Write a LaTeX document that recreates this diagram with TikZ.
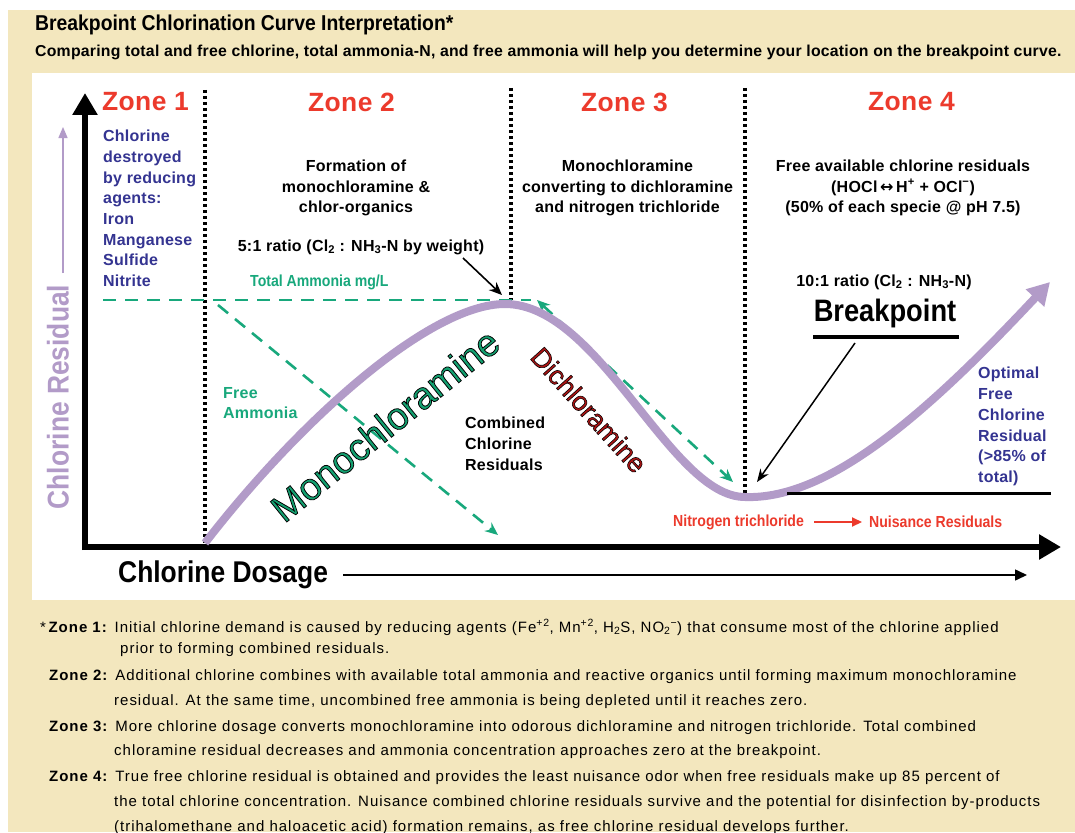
\documentclass[tikz,border=0pt]{standalone}
\usepackage{fontspec}
\setmainfont{Liberation Sans}[LetterSpace=1.5]
\newfontfamily\condfont{Liberation Sans}[FakeStretch=0.88]
\newfontfamily\headfont{Liberation Sans}[FakeStretch=0.9]
\newfontfamily\notefont{Liberation Sans}[LetterSpace=6.6]
\newfontfamily\outlinefont{Liberation Sans}[FakeBold=2]
\newfontfamily\arrowfont{DejaVu Sans}
\newcommand{\blackrim}{\special{pdf:literal direct 0 0 0 RG}}
\usetikzlibrary{arrows.meta}

\definecolor{paper}{RGB}{243,231,190}
\definecolor{lilac}{RGB}{178,155,200}
\definecolor{ammonia}{RGB}{24,168,124}
\definecolor{zonered}{RGB}{236,58,44}
\definecolor{indigo}{RGB}{52,52,145}
\definecolor{monogreen}{RGB}{20,160,112}
\definecolor{dired}{RGB}{172,20,20}

\begin{document}
\begin{tikzpicture}[x=1pt, y=-1pt, >=Stealth,
		zone/.style={text=zonered, font=\fontsize{26.4}{30}\selectfont\bfseries, inner sep=0},
		desc/.style={font=\fontsize{16}{20.8}\selectfont\bfseries, align=center, inner sep=0},
		agent/.style={text=indigo, font=\fontsize{16}{20.7}\selectfont\bfseries, align=left, inner sep=0},
		narrow/.style={font=\condfont\fontsize{16}{20}\selectfont\bfseries, inner sep=0},
		divider/.style={line width=3.2pt, dash pattern=on 3pt off 3pt},
		ammo/.style={ammonia, line width=2.6pt, dash pattern=on 13pt off 9pt},
		axis/.style={line width=6pt, -{Triangle[length=22pt,width=24pt]}},
		curve/.style={lilac, line width=8pt},
		pointer/.style={line width=1.6pt, -{Stealth[length=13pt,width=11pt]}},
		note/.style={anchor=base west, inner sep=0, font=\notefont\fontsize{15}{20}\selectfont}]
		
		% Background
		\useasboundingbox (0,0) rectangle (1075,832);
		\fill[white] (0,0) rectangle (1075,832);
		\fill[paper] (8,10) rectangle (1075,832);
		\fill[white] (32,73) rectangle (1075,600);
		
		% Heading
		\node[anchor=west, inner sep=0, font=\headfont\fontsize{21.5}{24}\selectfont\bfseries] (title) at (35,25) {Breakpoint Chlorination Curve Interpretation*};
		\node[anchor=west, inner sep=0, font=\fontsize{15.8}{18}\selectfont\bfseries] (subtitle) at (35,52) {Comparing total and free chlorine, total ammonia-N, and free ammonia will help you determine your location on the breakpoint curve.};
		
		% Key points
		\coordinate (origin) at (85,547);
		\coordinate (ytip) at (85,93);
		\coordinate (xtip) at (1061,547);
		\coordinate (start) at (205,543);
		\coordinate (peak) at (505,304);
		\coordinate (bp) at (745,497);
		\coordinate (fin) at (1050,282);
		
		% Zone dividers
		\draw[divider] (205,90) -- (start);
		\draw[divider] (511,88) -- (511,300);
		\draw[divider] (745,88) -- (745,493);
		
		% Zone titles
		\node[zone] (z1) at (145.5,102) {Zone 1};
		\node[zone] (z2) at (351.5,102) {Zone 2};
		\node[zone] (z3) at (624.5,102) {Zone 3};
		\node[zone] (z4) at (911.5,102) {Zone 4};
		
		% Zone texts
		\node[agent, anchor=north west] (agents) at (103,130) {Chlorine\\destroyed\\by reducing\\agents:\\Iron\\Manganese\\Sulfide\\Nitrite};
		\node[desc] (form) at (356,188) {Formation of\\monochloramine \&\\chlor-organics};
		\node[desc] (conv) at (627.5,188) {Monochloramine\\converting to dichloramine\\and nitrogen trichloride};
		\node[desc] (free) at (903,188) {Free available chlorine residuals\\(HOCl\,{\arrowfont\bfseries ↔}\,H\textsuperscript{+} + OCl\textsuperscript{−})\\(50\% of each specie @ pH 7.5)};
		\node[desc] (r5) at (361,247) {5:1 ratio (Cl\textsubscript{2} : NH\textsubscript{3}-N by weight)};
		\node[desc] (r10) at (884,282) {10:1 ratio (Cl\textsubscript{2} : NH\textsubscript{3}-N)};
		\node[narrow, text=ammonia, anchor=west] (total) at (250,282) {Total Ammonia mg/L};
		\node[desc, text=ammonia, align=left, anchor=west] (freeam) at (223,403) {Free\\Ammonia};
		\node[desc, align=left, anchor=west] (comb) at (465,444) {Combined\\Chlorine\\Residuals};
		\node[desc, text=indigo, align=left, anchor=north west] (optimal) at (978,367) {Optimal\\Free\\Chlorine\\Residual\\(>85\% of\\total)};
		\node[inner sep=0, font=\condfont\fontsize{31}{34}\selectfont\bfseries] (bpt) at (885,313) {Breakpoint};
		\draw[line width=4pt] (813,337) -- (959,337);
		
		% Axes
		\draw[axis] (85,550) -- (ytip);
		\draw[axis] (82,547) -- (xtip);
		\node[inner sep=0, font=\condfont\fontsize{30}{34}\selectfont\bfseries, anchor=west] (dose) at (118,575) {Chlorine Dosage};
		\coordinate (dosetip) at (1027,575);
		\draw[line width=1.5pt, -{Triangle[length=12pt,width=11pt]}] (343,575) -- (dosetip);
		\node[inner sep=0, text=lilac, rotate=90, font=\condfont\fontsize{30}{34}\selectfont\bfseries] (resid) at (58,397) {Chlorine Residual};
		\draw[lilac, line width=1.5pt, -{Triangle[length=11pt,width=9pt]}] (63,273) -- (63,127);
		
		% Ammonia lines
		\draw[ammo] (103,300) -- (531,300);
		\draw[ammo, -{Stealth[length=13pt,width=11pt]}] (218,305) -- (498,535);
		\draw[ammo, {Stealth[length=13pt,width=11pt]}-{Stealth[length=13pt,width=11pt]}] (537,300) -- (733,482);
		
		% Breakpoint curve
		\draw[curve, -{Triangle[length=22pt,width=24pt]}] (start) .. controls (300,420) and (430,304) .. (peak)
			.. controls (600,304) and (670,497) .. (bp)
			.. controls (830,500) and (930,410) .. (fin);
		\draw[line width=3pt] (787,493) -- (1051,493);
		
		% Curve labels
		\node[rotate=39, inner sep=0, font=\outlinefont\fontsize{38}{40}\selectfont] (mono) at (385,425) {\color{monogreen}\blackrim Monochloramine};
		\node[rotate=-48, inner sep=0, font=\outlinefont\fontsize{27}{30}\selectfont] (di) at (589,410) {\color{dired}\blackrim Dichloramine};
		
		% Pointers
		\coordinate (r5foot) at (463,258);
		\draw[pointer] (r5foot) -- (502,295);
		\coordinate (bpfoot) at (855,343);
		\coordinate (bptip) at (757,482);
		\draw[line width=1.5pt, -{Stealth[length=13pt,width=10pt]}] (bpfoot) -- (bptip);
		
		% Nuisance
		\node[narrow, text=zonered, anchor=west] (ncl) at (673,522) {Nitrogen trichloride};
		\node[narrow, text=zonered, anchor=west] (nuis) at (869,522) {Nuisance Residuals};
		\draw[zonered, line width=2pt, -{Triangle[length=10pt,width=9pt]}] (ncl.east) ++(10,0) -- ([xshift=-7pt]nuis.west);
		
		% Footnote
		\node[note] (n1) at (40,632) {*\,\textbf{Zone 1:} Initial chlorine demand is caused by reducing agents (Fe\textsuperscript{+2}, Mn\textsuperscript{+2}, H\textsubscript{2}S, NO\textsubscript{2}\textsuperscript{−}) that consume most of the chlorine applied};
		\node[note] (n2) at (120,653) {prior to forming combined residuals.};
		\node[note] (n3) at (49,680) {\textbf{Zone 2:} Additional chlorine combines with available total ammonia and reactive organics until forming maximum monochloramine};
		\node[note] (n4) at (114,705) {residual. At the same time, uncombined free ammonia is being depleted until it reaches zero.};
		\node[note] (n5) at (49,731) {\textbf{Zone 3:} More chlorine dosage converts monochloramine into odorous dichloramine and nitrogen trichloride. Total combined};
		\node[note] (n6) at (114,755) {chloramine residual decreases and ammonia concentration approaches zero at the breakpoint.};
		\node[note] (n7) at (49,781) {\textbf{Zone 4:} True free chlorine residual is obtained and provides the least nuisance odor when free residuals make up 85 percent of};
		\node[note] (n8) at (114,806) {the total chlorine concentration. Nuisance combined chlorine residuals survive and the potential for disinfection by-products};
		\node[note] (n9) at (114,831) {(trihalomethane and haloacetic acid) formation remains, as free chlorine residual develops further.};
		
	\end{tikzpicture}
\end{document}
